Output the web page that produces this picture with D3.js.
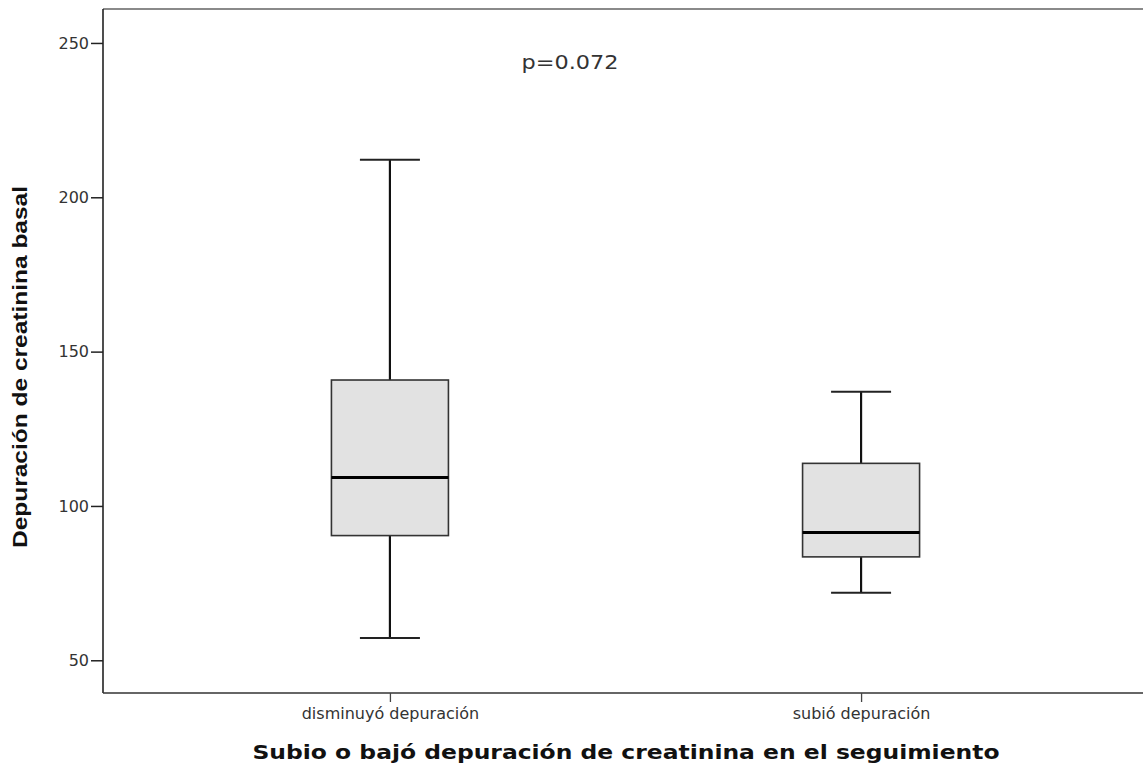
<!DOCTYPE html>
<html>
<head>
<meta charset="utf-8">
<script src="https://cdn.jsdelivr.net/npm/d3@7"></script>
<style>
  body { margin: 0; background: #fff; }
  svg { display: block; }
  text { font-family: "DejaVu Sans", Verdana, sans-serif; }
</style>
</head>
<body>
<svg id="chart" width="1143" height="766"></svg>
<script>
// Groups and five-number summaries of baseline creatinine clearance
const categories = ["disminuyó depuración", "subió depuración"];
const whiskerLow  = [57.2, 71.9];
const q1          = [90.4, 83.5];
const median      = [109.2, 91.4];
const q3          = [140.8, 113.8];
const whiskerHigh = [212.2, 137.0];
const yTicks = [50, 100, 150, 200, 250];
const pLabel = "p=0.072";
const yTitle = "Depuración de creatinina basal";
const xTitle = "Subio o bajó depuración de creatinina en el seguimiento";

const svg = d3.select("#chart");
const frame = { left: 103, top: 9, right: 1148, bottom: 693 };

const y = d3.scaleLinear().domain([39.4, 261]).range([frame.bottom, frame.top]);
const x = d3.scalePoint().domain(categories).range([frame.left, frame.right]).padding(0.609);

const boxW = 117, capW = 60;

// plot frame: grey top edge, dark left/bottom
svg.append("line").attr("x1", frame.left).attr("x2", frame.right)
  .attr("y1", frame.top).attr("y2", frame.top)
  .attr("stroke", "#8a8a8a").attr("stroke-width", 2);
svg.append("line").attr("x1", frame.left).attr("x2", frame.left)
  .attr("y1", frame.top).attr("y2", frame.bottom)
  .attr("stroke", "#222").attr("stroke-width", 1.6);
svg.append("line").attr("x1", frame.left).attr("x2", frame.right)
  .attr("y1", frame.bottom).attr("y2", frame.bottom)
  .attr("stroke", "#333").attr("stroke-width", 1.6);

// y axis
const yAxis = d3.axisLeft(y).tickValues(yTicks).tickSize(12).tickPadding(2);
const gy = svg.append("g").attr("transform", `translate(${frame.left},0)`).call(yAxis);
gy.select(".domain").remove();
gy.selectAll(".tick line").attr("stroke", "#222").attr("stroke-width", 1.5);
gy.selectAll(".tick text").attr("fill", "#333").style("font-size", "16px")
  .style("font-family", "'DejaVu Sans', Verdana, sans-serif");

// x axis
const xAxis = d3.axisBottom(x).tickSize(9).tickPadding(6);
const gx = svg.append("g").attr("transform", `translate(0,${frame.bottom})`).call(xAxis);
gx.select(".domain").remove();
gx.selectAll(".tick line").attr("stroke", "#444").attr("stroke-width", 1.3);
gx.selectAll(".tick text").attr("fill", "#333").style("font-size", "16px")
  .style("font-family", "'DejaVu Sans', Verdana, sans-serif");

// boxes
const rows = categories.map((c, i) => ({
  c, lo: whiskerLow[i], q1: q1[i], med: median[i], q3: q3[i], hi: whiskerHigh[i]
}));
const g = svg.selectAll("g.box").data(rows).join("g").attr("class", "box");

g.append("line").attr("x1", d => x(d.c)).attr("x2", d => x(d.c))
  .attr("y1", d => y(d.hi)).attr("y2", d => y(d.q3))
  .attr("stroke", "#111").attr("stroke-width", 2.2);
g.append("line").attr("x1", d => x(d.c)).attr("x2", d => x(d.c))
  .attr("y1", d => y(d.q1)).attr("y2", d => y(d.lo))
  .attr("stroke", "#111").attr("stroke-width", 2.2);
g.append("line").attr("x1", d => x(d.c) - capW / 2).attr("x2", d => x(d.c) + capW / 2)
  .attr("y1", d => y(d.hi)).attr("y2", d => y(d.hi))
  .attr("stroke", "#222").attr("stroke-width", 2);
g.append("line").attr("x1", d => x(d.c) - capW / 2).attr("x2", d => x(d.c) + capW / 2)
  .attr("y1", d => y(d.lo)).attr("y2", d => y(d.lo))
  .attr("stroke", "#222").attr("stroke-width", 2);
g.append("rect").attr("x", d => x(d.c) - boxW / 2).attr("width", boxW)
  .attr("y", d => y(d.q3)).attr("height", d => y(d.q1) - y(d.q3))
  .attr("fill", "#e2e2e2").attr("stroke", "#333").attr("stroke-width", 1.6);
g.append("line").attr("x1", d => x(d.c) - boxW / 2).attr("x2", d => x(d.c) + boxW / 2)
  .attr("y1", d => y(d.med)).attr("y2", d => y(d.med))
  .attr("stroke", "#000").attr("stroke-width", 3);

// p-value annotation
svg.append("text").attr("x", 570).attr("y", 69).attr("text-anchor", "middle")
  .attr("fill", "#333").style("font-size", "20px")
  .attr("textLength", 97).attr("lengthAdjust", "spacingAndGlyphs").text(pLabel);

// axis titles
svg.append("text").attr("transform", "translate(27,367) rotate(-90)")
  .attr("text-anchor", "middle").attr("fill", "#111")
  .style("font-family", "'Liberation Sans', Arial, sans-serif")
  .style("font-size", "21px").style("font-weight", "bold")
  .attr("textLength", 362).attr("lengthAdjust", "spacingAndGlyphs")
  .text(yTitle);
svg.append("text").attr("x", 626).attr("y", 759).attr("text-anchor", "middle")
  .attr("fill", "#111").style("font-size", "19px").style("font-weight", "bold")
  .attr("textLength", 747).attr("lengthAdjust", "spacingAndGlyphs")
  .text(xTitle);
</script>
</body>
</html>
